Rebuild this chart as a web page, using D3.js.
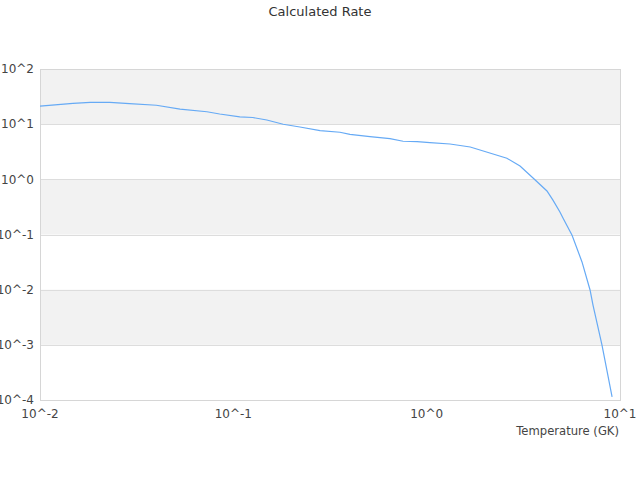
<!DOCTYPE html>
<html>
<head>
<meta charset="utf-8">
<script src="https://cdn.jsdelivr.net/npm/d3@7"></script>
<style>
  body { margin: 0; background: #fff; }
  text { font-family: "DejaVu Sans", sans-serif; }
</style>
</head>
<body>
<div id="chart"></div>
<script>
// Temperature (GK) and calculated rate
const temperature = [0.01, 0.0148, 0.0182, 0.023, 0.029, 0.040, 0.053, 0.073, 0.085, 0.108,
    0.126, 0.149, 0.181, 0.221, 0.281, 0.356, 0.401, 0.509, 0.646, 0.755, 0.892, 1.04,
    1.32, 1.68, 2.60, 3.04, 3.55, 4.19, 4.50, 4.89, 5.07, 5.65, 6.36, 7.0, 7.25, 8.07, 9.1];
const rate = [21.3, 23.9, 24.9, 24.9, 23.5, 22.0, 18.8, 16.8, 15.3, 13.6,
    13.2, 11.9, 9.95, 8.89, 7.62, 7.13, 6.55, 5.93, 5.46, 4.90, 4.81, 4.61,
    4.37, 3.86, 2.41, 1.74, 1.06, 0.615, 0.42, 0.256, 0.199, 0.097, 0.0318, 0.00986, 0.00527, 0.00099, 0.000114];
const xTickExp = [-2, -1, 0, 1];
const yTickExp = [-4, -3, -2, -1, 0, 1, 2];

(function() {
    const W = 640, H = 480;
    const margin = { top: 69, right: 20, bottom: 80, left: 40 };
    const width = W - margin.left - margin.right;
    const height = H - margin.top - margin.bottom;

    const svg = d3.select("#chart").append("svg")
        .attr("width", W).attr("height", H);

    // Titre
    svg.append("text")
        .attr("x", W / 2).attr("y", 16)
        .attr("text-anchor", "middle")
        .style("font-size", "13px")
        .attr("fill", "#333")
        .text("Calculated Rate");

    const g = svg.append("g").attr("transform", `translate(${margin.left},${margin.top})`);

    const x = d3.scaleLog().domain([0.01, 10]).range([0, width]);
    const y = d3.scaleLog().domain([1e-4, 1e2]).range([height, 0]);

    // Bandes alternées
    const bands = yTickExp.slice(0, -1).filter(e => (e + 4) % 2 === 1);
    g.append("g").selectAll("rect")
        .data(bands)
        .join("rect")
        .attr("x", 0)
        .attr("width", width)
        .attr("y", e => y(Math.pow(10, e + 1)))
        .attr("height", e => y(Math.pow(10, e)) - y(Math.pow(10, e + 1)))
        .attr("fill", "#f2f2f2");

    // Lignes de grille
    g.append("g").selectAll("line")
        .data(yTickExp)
        .join("line")
        .attr("x1", 0).attr("x2", width)
        .attr("y1", e => Math.round(y(Math.pow(10, e))) + 0.5)
        .attr("y2", e => Math.round(y(Math.pow(10, e))) + 0.5)
        .attr("stroke", "#dddddd");

    // Cadre
    g.append("rect")
        .attr("x", 0.5).attr("y", 0.5)
        .attr("width", width).attr("height", height)
        .attr("fill", "none")
        .attr("stroke", "#d6d6d6");

    // Courbe
    const pts = temperature.map((t, i) => [t, rate[i]]);
    g.append("path")
        .datum(pts)
        .attr("d", d3.line().x(d => x(d[0])).y(d => y(d[1])))
        .attr("fill", "none")
        .attr("stroke", "#66aaf5")
        .attr("stroke-width", 1.2);

    // Labels axe Y
    g.append("g").selectAll("text")
        .data(yTickExp)
        .join("text")
        .attr("x", -6)
        .attr("y", e => y(Math.pow(10, e)))
        .attr("dy", "0.35em")
        .attr("text-anchor", "end")
        .style("font-size", "12px")
        .attr("fill", "#444")
        .text(e => "10^" + e);

    // Labels axe X
    g.append("g").selectAll("text")
        .data(xTickExp)
        .join("text")
        .attr("x", e => x(Math.pow(10, e)))
        .attr("y", height + 18)
        .attr("text-anchor", "middle")
        .style("font-size", "12px")
        .attr("fill", "#444")
        .text(e => "10^" + e);

    // Titre axe X
    g.append("text")
        .attr("x", width - 1)
        .attr("y", height + 35)
        .attr("text-anchor", "end")
        .style("font-size", "11.6px")
        .attr("fill", "#444")
        .text("Temperature (GK)");
})();
</script>
</body>
</html>
